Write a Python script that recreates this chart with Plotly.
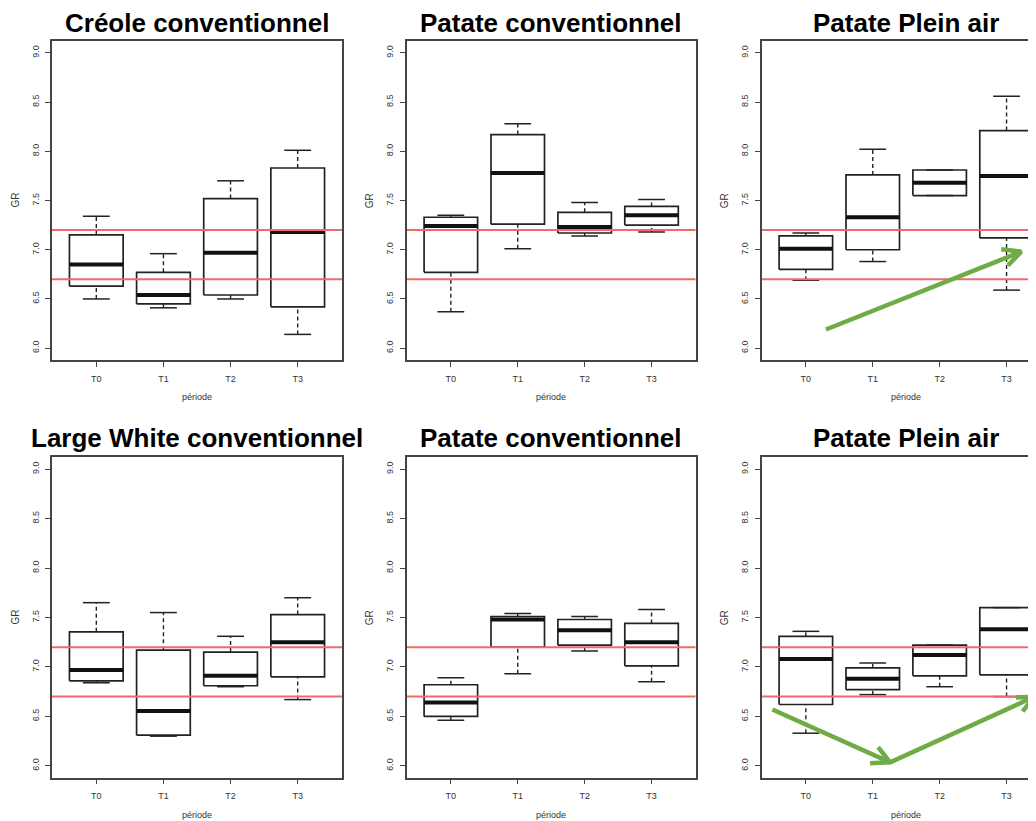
import plotly.graph_objects as go

# ---------------- data ----------------
periods = ["T0", "T1", "T2", "T3"]
titles = ["Créole conventionnel", "Patate conventionnel", "Patate Plein air",
          "Large White conventionnel", "Patate conventionnel", "Patate Plein air"]

# panel 1 : Créole conventionnel
p1_low = [6.50, 6.41, 6.50, 6.14]
p1_q1 = [6.63, 6.45, 6.54, 6.42]
p1_med = [6.85, 6.54, 6.97, 7.18]
p1_q3 = [7.15, 6.77, 7.52, 7.83]
p1_high = [7.34, 6.96, 7.70, 8.01]

# panel 2 : Patate conventionnel (top)
p2_low = [6.37, 7.01, 7.14, 7.18]
p2_q1 = [6.77, 7.26, 7.17, 7.25]
p2_med = [7.24, 7.78, 7.23, 7.35]
p2_q3 = [7.33, 8.17, 7.38, 7.44]
p2_high = [7.35, 8.28, 7.48, 7.51]

# panel 3 : Patate Plein air (top)
p3_low = [6.69, 6.88, 7.55, 6.59]
p3_q1 = [6.80, 7.00, 7.55, 7.12]
p3_med = [7.01, 7.33, 7.68, 7.75]
p3_q3 = [7.14, 7.76, 7.81, 8.21]
p3_high = [7.17, 8.02, 7.81, 8.56]

# panel 4 : Large White conventionnel
p4_low = [6.84, 6.30, 6.80, 6.67]
p4_q1 = [6.86, 6.31, 6.81, 6.90]
p4_med = [6.97, 6.555, 6.91, 7.25]
p4_q3 = [7.355, 7.17, 7.15, 7.53]
p4_high = [7.65, 7.55, 7.31, 7.70]

# panel 5 : Patate conventionnel (bottom)
p5_low = [6.46, 6.93, 7.16, 6.85]
p5_q1 = [6.50, 7.20, 7.22, 7.01]
p5_med = [6.64, 7.48, 7.37, 7.25]
p5_q3 = [6.82, 7.51, 7.48, 7.44]
p5_high = [6.89, 7.54, 7.51, 7.58]

# panel 6 : Patate Plein air (bottom)
p6_low = [6.33, 6.72, 6.80, 6.70]
p6_q1 = [6.62, 6.77, 6.91, 6.92]
p6_med = [7.08, 6.88, 7.12, 7.38]
p6_q3 = [7.31, 6.99, 7.22, 7.60]
p6_high = [7.36, 7.04, 7.22, 7.60]

ref_lines = [7.2, 6.7]
y_tickvals = [6.0, 6.5, 7.0, 7.5, 8.0, 8.5, 9.0]
y_ticktext = ["6.0", "6.5", "7.0", "7.5", "8.0", "8.5", "9.0"]
y_label = "GR"
x_label = "période"

# green trend arrows (annotation, data coords of the panel): polylines
arrow_p3 = [
    ([1.30, 4.22], [6.19, 6.98]),
    ([3.92, 4.22, 4.02], [7.005, 6.98, 6.84]),
]
arrow_p6 = [
    ([0.50, 2.26, 4.42], [6.57, 6.035, 6.70]),
    ([1.96, 2.26, 2.08], [6.025, 6.035, 6.19]),
    ([4.14, 4.42, 4.24], [6.69, 6.70, 6.55]),
]

panels = [
    (p1_low, p1_q1, p1_med, p1_q3, p1_high),
    (p2_low, p2_q1, p2_med, p2_q3, p2_high),
    (p3_low, p3_q1, p3_med, p3_q3, p3_high),
    (p4_low, p4_q1, p4_med, p4_q3, p4_high),
    (p5_low, p5_q1, p5_med, p5_q3, p5_high),
    (p6_low, p6_q1, p6_med, p6_q3, p6_high),
]

# ---------------- layout geometry (page pixels) ----------------
PAGE_W, PAGE_H = 1036, 821
OFF = 8  # default body margin of the html page
W, H = PAGE_W - OFF, PAGE_H - OFF
col_px = [(52, 342), (406.7, 695.7), (761.7, 1050.7)]  # full frame (3rd is clipped)
row_px = [(41, 360), (457.3, 777.7)]
title_y_px = [23.5, 438]


def fx(p):
    return (p - OFF) / W


def fy(p):
    return 1 - (p - OFF) / H


FONT = "Liberation Sans, Arial, Helvetica, sans-serif"
BOXW = 0.4
CAPW = 0.2

fig = go.Figure()
annotations = []

for k, (lo, q1, med, q3, hi) in enumerate(panels):
    idx = k + 1
    r, c = divmod(k, 3)
    xa = "x" if idx == 1 else f"x{idx}"
    ya = "y" if idx == 1 else f"y{idx}"
    xpos = list(range(1, len(periods) + 1))

    bx, by, mx, my, wx, wy, cx, cy = [], [], [], [], [], [], [], []
    for i, xp in enumerate(xpos):
        bx += [xp - BOXW, xp + BOXW, xp + BOXW, xp - BOXW, xp - BOXW, None]
        by += [q1[i], q1[i], q3[i], q3[i], q1[i], None]
        mx += [xp - BOXW, xp + BOXW, None]
        my += [med[i], med[i], None]
        wx += [xp, xp, None, xp, xp, None]
        wy += [q3[i], hi[i], None, lo[i], q1[i], None]
        cx += [xp - CAPW, xp + CAPW, None, xp - CAPW, xp + CAPW, None]
        cy += [hi[i], hi[i], None, lo[i], lo[i], None]

    common = dict(xaxis=xa, yaxis=ya, mode="lines", showlegend=False, hoverinfo="skip")
    fig.add_trace(go.Scatter(x=wx, y=wy, line=dict(color="#222", width=1.4, dash="4px,3px"), **common))
    fig.add_trace(go.Scatter(x=cx, y=cy, line=dict(color="#222", width=1.5), **common))
    fig.add_trace(go.Scatter(x=bx, y=by, line=dict(color="#222", width=1.7), **common))
    fig.add_trace(go.Scatter(x=mx, y=my, line=dict(color="#111", width=4), **common))

    # reference lines
    for rv in ref_lines:
        fig.add_trace(go.Scatter(x=[0.34, 4.66], y=[rv, rv],
                                 line=dict(color="#F06A6A", width=2), **common))

    # axes
    x0p, x1p = col_px[c]
    clipped = x1p > PAGE_W
    x1_vis = min(x1p, PAGE_W)
    top_px, bot_px = row_px[r]
    xr_lo = 0.34
    xr_hi = 0.34 + (4.66 - 0.34) * (x1_vis - x0p) / (x1p - x0p)
    xkey = "xaxis" if idx == 1 else f"xaxis{idx}"
    ykey = "yaxis" if idx == 1 else f"yaxis{idx}"
    fig.layout[xkey] = dict(
        domain=[fx(x0p), fx(x1_vis)], anchor=ya, range=[xr_lo, xr_hi],
        tickvals=xpos, ticktext=periods, ticks="outside", ticklen=5, tickwidth=1.2,
        tickcolor="#444", showline=True, mirror=True, linecolor="#444", linewidth=1.5,
        showgrid=False, zeroline=False, tickfont=dict(family=FONT, size=9, color="#333"),
        ticklabelstandoff=4, fixedrange=True,
    )
    fig.layout[ykey] = dict(
        domain=[fy(bot_px), fy(top_px)], anchor=xa, range=[5.88, 9.12],
        tickvals=y_tickvals, ticktext=y_ticktext, ticks="outside", ticklen=5, tickwidth=1.2,
        tickcolor="#444", showline=True, mirror=(not clipped), linecolor="#444", linewidth=1.5,
        showgrid=False, zeroline=False, tickangle=-90,
        tickfont=dict(family=FONT, size=9, color="#333"), ticklabelstandoff=3, fixedrange=True,
    )

    # title
    annotations.append(dict(
        text=f"<b>{titles[k]}</b>", xref="paper", yref="paper",
        x=fx((x0p + x1p) / 2), y=fy(title_y_px[r]), xanchor="center", yanchor="middle",
        borderpad=0, showarrow=False, font=dict(family=FONT, size=26, color="#000"),
    ))
    # y label
    annotations.append(dict(
        text=y_label, xref="paper", yref="paper", x=fx(x0p - 37),
        y=fy((top_px + bot_px) / 2), xanchor="center", yanchor="middle", textangle=-90,
        showarrow=False, font=dict(family=FONT, size=10, color="#333"),
    ))
    # x label
    annotations.append(dict(
        text=x_label, xref="paper", yref="paper", x=fx((x0p + x1p) / 2),
        y=fy(bot_px + 37), xanchor="center", yanchor="middle", borderpad=0,
        showarrow=False, font=dict(family=FONT, size=9, color="#333"),
    ))

    # green arrows
    arrows = arrow_p3 if idx == 3 else (arrow_p6 if idx == 6 else [])
    for ax_, ay_ in arrows:
        fig.add_trace(go.Scatter(x=ax_, y=ay_, line=dict(color="#6FAC46", width=4.5),
                                 **common))

fig.update_layout(
    width=W, height=H, margin=dict(l=0, r=0, t=0, b=0),
    paper_bgcolor="white", plot_bgcolor="white",
    annotations=annotations, showlegend=False,
)

fig.write_html("out.html")
